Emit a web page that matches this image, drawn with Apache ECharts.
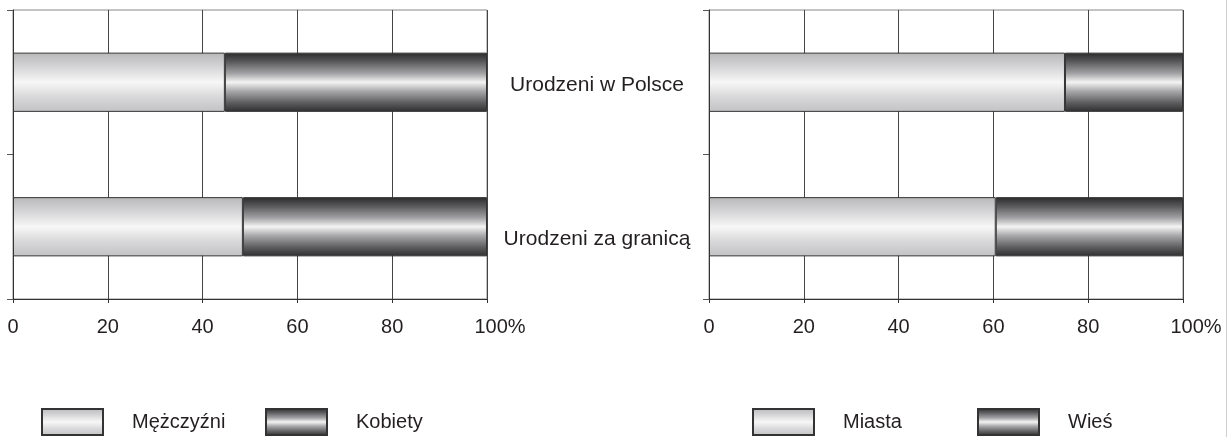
<!DOCTYPE html>
<html>
<head>
<meta charset="utf-8">
<script src="https://cdn.jsdelivr.net/npm/echarts@6/dist/echarts.min.js"></script>
<style>
html,body{margin:0;padding:0;background:#fff;}
#chart{width:1229px;height:437px;}
</style>
</head>
<body>
<div id="chart"></div>
<script>
// ---- data ----
var categories = ['Urodzeni w Polsce', 'Urodzeni za granicą'];
var xTicks = [0, 20, 40, 60, 80, 100];
var menShare = [44.7, 48.5];
var womenShare = [55.3, 51.5];
var cityShare = [75.1, 60.5];
var villageShare = [24.9, 39.5];
var seriesNamesLeft = ['Mężczyźni', 'Kobiety'];
var seriesNamesRight = ['Miasta', 'Wieś'];

// ---- styles ----
var FONT = '"Liberation Sans", Arial, sans-serif';
var TXT = '#231f20';
function lightGrad() {
  return new echarts.graphic.LinearGradient(0, 0, 0, 1, [
    {offset: 0, color: '#b8b8ba'},
    {offset: 0.25, color: '#d6d6d8'},
    {offset: 0.5, color: '#f7f7f7'},
    {offset: 0.75, color: '#d8d8da'},
    {offset: 1, color: '#c2c2c4'}
  ]);
}
function darkGrad() {
  return new echarts.graphic.LinearGradient(0, 0, 0, 1, [
    {offset: 0, color: '#2a2a2b'},
    {offset: 0.15, color: '#58585a'},
    {offset: 0.35, color: '#a2a2a4'},
    {offset: 0.5, color: '#f4f4f4'},
    {offset: 0.65, color: '#a8a8aa'},
    {offset: 0.85, color: '#5c5c5e'},
    {offset: 1, color: '#2e2e2f'}
  ]);
}

function xAxisCfg(gi) {
  return {
    type: 'value', gridIndex: gi, min: 0, max: 100, interval: 20,
    axisLine: {show: true, lineStyle: {color: '#333', width: 1}},
    axisTick: {show: true, length: 4, lineStyle: {color: '#333'}},
    splitLine: {show: true, lineStyle: {color: '#444', width: 1}},
    axisLabel: {
      color: TXT, fontSize: 20, fontFamily: FONT, margin: 18,
      formatter: function (v) { return v === 100 ? '{p|100%}' : String(v); },
      rich: {p: {color: TXT, fontSize: 20, fontFamily: FONT, padding: [0, 0, 0, 26]}}
    }
  };
}
function yAxisCfg(gi, showLabels) {
  return {
    type: 'category', gridIndex: gi, data: categories, inverse: true,
    axisLine: {show: true, lineStyle: {color: '#333', width: 1}},
    axisTick: {show: true, length: 6, lineStyle: {color: '#555'}},
    splitLine: {show: false},
    axisLabel: showLabels ? {
      show: true, align: 'center', margin: 112, color: TXT, fontSize: 21, fontFamily: FONT,
      formatter: function (v, i) { return (i === 0 ? '{a|' : '{b|') + v + '}'; },
      rich: {
        a: {color: TXT, fontSize: 21, fontFamily: FONT, padding: [6, 0, 0, 0]},
        b: {color: TXT, fontSize: 21, fontFamily: FONT, padding: [24, 0, 0, 0]}
      }
    } : {show: false}
  };
}
function barSeries(name, data, gi, grad, stack) {
  return {
    name: name, type: 'bar', stack: stack, data: data,
    xAxisIndex: gi, yAxisIndex: gi,
    barCategoryGap: '59%',
    itemStyle: {color: grad, borderColor: '#333', borderWidth: 1},
    emphasis: {disabled: true},
    animation: false
  };
}
function legendCfg(name, left) {
  return {
    data: [name], left: left, top: 408, itemWidth: 61, itemHeight: 26,
    padding: 0, icon: 'rect', selectedMode: false,
    textStyle: {color: TXT, fontSize: 20, fontFamily: FONT, padding: [0, 0, 0, 24]}
  };
}

var chart = echarts.init(document.getElementById('chart'), null, {renderer: 'canvas'});
chart.setOption({
  animation: false,
  backgroundColor: '#fff',
  grid: [
    {left: 13, right: 742, top: 10, bottom: 138, show: true, borderColor: '#888', borderWidth: 1, backgroundColor: 'transparent'},
    {left: 709, right: 46, top: 10, bottom: 138, show: true, borderColor: '#888', borderWidth: 1, backgroundColor: 'transparent'}
  ],
  xAxis: [xAxisCfg(0), xAxisCfg(1)],
  yAxis: [yAxisCfg(0, false), yAxisCfg(1, true)],
  legend: [
    legendCfg(seriesNamesLeft[0], 41),
    legendCfg(seriesNamesLeft[1], 265),
    legendCfg(seriesNamesRight[0], 752),
    legendCfg(seriesNamesRight[1], 977)
  ],
  series: [
    barSeries(seriesNamesLeft[0], menShare, 0, lightGrad(), 'L'),
    barSeries(seriesNamesLeft[1], womenShare, 0, darkGrad(), 'L'),
    barSeries(seriesNamesRight[0], cityShare, 1, lightGrad(), 'R'),
    barSeries(seriesNamesRight[1], villageShare, 1, darkGrad(), 'R')
  ],
  graphic: [{
    type: 'line', silent: true,
    shape: {x1: 1226.5, y1: 0, x2: 1226.5, y2: 437},
    style: {stroke: '#cfcfcf', lineWidth: 1}
  }]
});
</script>
</body>
</html>
